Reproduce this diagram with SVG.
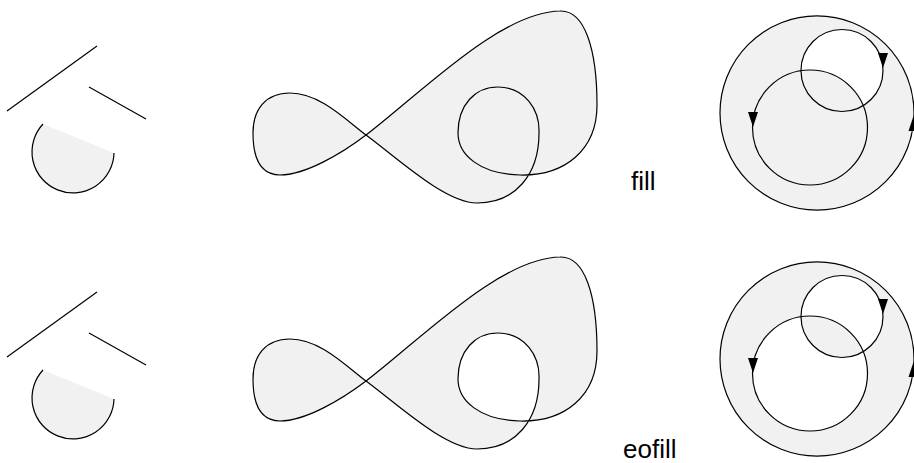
<svg xmlns="http://www.w3.org/2000/svg" width="914" height="463" viewBox="0 0 914 463">
<style>
.ln{fill:none;stroke:#000;stroke-width:1.2}
.sh{fill:#f1f1f1;stroke:#000;stroke-width:1.2}
.chord{fill:#f1f1f1;stroke:none}
.nz{fill-rule:nonzero}
.eo{fill-rule:evenodd}
.ah{fill:#000;stroke:none}
.lbl{font-family:"Liberation Sans",Arial,sans-serif;font-size:26px;fill:#000}
</style>
<defs>
<path id="arcShape" d="M43,124 A41,41 0 1,0 114,153 Z"/>
<path id="arcLine" d="M43,124 A41,41 0 1,0 114,153"/>
<path id="curve" d="M366,135 C421,93 500,12 560,11 C585,10 597,50 597,105 C597,150 565,176 520,175 C480,174 458,155 458,133 C458,105 475,87 498,87 C525,87 540,110 539,133 C539,175 515,203 477,203 C445,203 396,157 366,135 C346,120 320,93 290,93 C265,93 253,110 253,133 C253,160 262,175 280,175 C305,175 341,154 366,135 Z"/>
<path id="circles" d="M914,113 A97,97 0 1,0 720,113 A97,97 0 1,0 914,113 Z M883,70.5 A41,41 0 1,1 801,70.5 A41,41 0 1,1 883,70.5 Z M867.5,127.5 A57.5,57.5 0 1,0 752.5,127.5 A57.5,57.5 0 1,0 867.5,127.5 Z"/>
</defs>
<g id="row-fill">
  <g id="arc-fill">
    <line class="ln" x1="7" y1="111" x2="97" y2="46"/>
    <line class="ln" x1="89" y1="87" x2="146" y2="119"/>
    <use href="#arcShape" class="chord"/>
    <use href="#arcLine" class="ln"/>
  </g>
  <g id="curve-fill">
    <use href="#curve" class="sh nz"/>
  </g>
  <g id="circles-fill">
    <use href="#circles" class="sh nz"/>
    <path class="ah" d="M878,53 L888,53 L883,68 Z"/>
    <path class="ah" d="M748,112 L758,112 L753,127 Z"/>
    <path class="ah" d="M908.5,131 L918.5,131 L913.5,116 Z"/>
  </g>
  <text class="lbl" x="631" y="190">fill</text>
</g>
<g id="row-eofill" transform="translate(0,246)">
  <g id="arc-eofill">
    <line class="ln" x1="7" y1="111" x2="97" y2="46"/>
    <line class="ln" x1="89" y1="87" x2="146" y2="119"/>
    <use href="#arcShape" class="chord"/>
    <use href="#arcLine" class="ln"/>
  </g>
  <g id="curve-eofill">
    <use href="#curve" class="sh eo"/>
  </g>
  <g id="circles-eofill">
    <use href="#circles" class="sh eo"/>
    <path class="ah" d="M878,53 L888,53 L883,68 Z"/>
    <path class="ah" d="M748,112 L758,112 L753,127 Z"/>
    <path class="ah" d="M908.5,131 L918.5,131 L913.5,116 Z"/>
  </g>
</g>
<text class="lbl" x="623" y="458">eofill</text>
</svg>
